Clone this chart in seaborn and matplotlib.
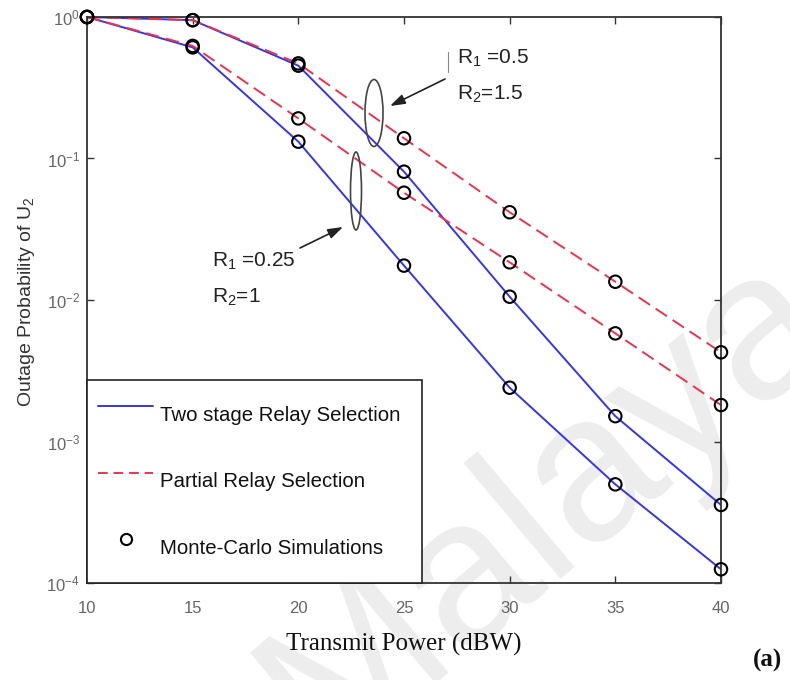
import matplotlib
matplotlib.use("Agg")
import matplotlib.pyplot as plt
from matplotlib.lines import Line2D
from matplotlib.patches import Ellipse
from matplotlib.ticker import NullLocator, FixedLocator
import seaborn as sns
import pandas as pd

# values
power = [10, 15, 20, 25, 30, 35, 40]
tsrs_r05 = [1.0, 0.95, 0.453, 0.0807, 0.01055, 0.00151, 0.000356]   # R1=0.5, R2=1.5
prs_r05 = [1.0, 0.95, 0.47, 0.139, 0.0417, 0.01346, 0.00427]
tsrs_r025 = [1.0, 0.61, 0.1315, 0.0175, 0.0024, 0.000498, 0.000125]  # R1=0.25, R2=1
prs_r025 = [1.0, 0.625, 0.192, 0.0573, 0.01846, 0.00581, 0.00181]

BLUE = '#3434f2'
RED = '#f2304c'

rows = []
for scheme, case, vals in [('Two stage Relay Selection', 'a', tsrs_r05),
                           ('Partial Relay Selection', 'a', prs_r05),
                           ('Two stage Relay Selection', 'b', tsrs_r025),
                           ('Partial Relay Selection', 'b', prs_r025)]:
    for p, v in zip(power, vals):
        rows.append({'power': p, 'prob': v, 'scheme': scheme, 'case': scheme + case})
df = pd.DataFrame(rows)

sns.set_style('ticks')
plt.rcParams['font.family'] = ['Liberation Sans', 'DejaVu Sans']
plt.rcParams['mathtext.fontset'] = 'custom'
plt.rcParams['mathtext.rm'] = 'Liberation Sans'
plt.rcParams['mathtext.it'] = 'Liberation Sans:italic'
plt.rcParams['mathtext.default'] = 'regular'

fig = plt.figure(figsize=(7.9, 6.8), dpi=100)
ax = fig.add_axes([87 / 790, 97 / 680, 634 / 790, 566 / 680])
ax.set_facecolor('none')

sns.lineplot(data=df, x='power', y='prob', hue='scheme', style='scheme', units='case',
             estimator=None, palette={'Two stage Relay Selection': BLUE, 'Partial Relay Selection': RED},
             dashes={'Two stage Relay Selection': '', 'Partial Relay Selection': (7, 3.5)},
             linewidth=1.4, legend=False, ax=ax, zorder=2)
sns.scatterplot(data=df, x='power', y='prob', marker='o', s=80, fc='none', ec='black',
                linewidth=1.5, legend=False, ax=ax, zorder=3, clip_on=False)

ax.set_yscale('log')
ax.set_xlim(10, 40)
ax.set_ylim(1e-4, 1)
ax.xaxis.set_major_locator(FixedLocator(power))
ax.yaxis.set_major_locator(FixedLocator([1e-4, 1e-3, 1e-2, 1e-1, 1]))
ax.yaxis.set_minor_locator(NullLocator())
ax.tick_params(direction='in', top=True, right=True, length=5, width=1,
               color='#333333', labelcolor='#666666', labelsize=12, pad=5)
ax.tick_params(axis='x', pad=13)
for s in ax.spines.values():
    s.set_visible(True)
    s.set_color('#333333')
    s.set_linewidth(1.3)

ax.set_xlabel('Transmit Power (dBW)', family='Liberation Serif', fontsize=18, color='#111111', labelpad=12)
ax.set_ylabel('Outage Probability of U$_2$', fontsize=14, color='#333333')
ax.yaxis.set_label_coords(-0.079, 0.497)

handles = [Line2D([], [], color=BLUE, lw=1.4),
           Line2D([], [], color=RED, lw=1.4, ls=(0, (5, 3))),
           Line2D([], [], ls='', marker='o', ms=8, mfc='none', mec='black', mew=1.5)]
labels = ['Two stage Relay Selection', 'Partial Relay Selection', 'Monte-Carlo Simulations']
leg = ax.legend(handles, labels, loc='lower left', bbox_to_anchor=(0, 0, 335 / 634, 0.4),
                mode='expand', borderaxespad=0,
                fontsize=14.7, handlelength=2.7, handleheight=3.2, handletextpad=0.35,
                labelspacing=0.93, borderpad=0.55, fancybox=False, framealpha=1,
                edgecolor='#222222')
leg.get_frame().set_linewidth(1.2)
for t in leg.get_texts():
    t.set_color('#111111')


def px(x, y):
    return x / 790, 1 - y / 680


# annotations
ax.add_patch(Ellipse(px(374, 113), 18 / 790, 67 / 680, transform=fig.transFigure,
                     fill=False, ec='#444444', lw=1.2, zorder=4, clip_on=False))
ax.add_patch(Ellipse(px(356, 191), 11 / 790, 78 / 680, transform=fig.transFigure,
                     fill=False, ec='#444444', lw=1.2, zorder=4, clip_on=False))
arrow = dict(arrowstyle='-|>,head_length=0.9,head_width=0.3', color='#222222', lw=1.2,
             shrinkA=0, shrinkB=0)
ax.annotate('', xy=(390, 680 - 106), xytext=(445, 680 - 79), xycoords='figure pixels',
            textcoords='figure pixels', arrowprops=arrow)
ax.annotate('', xy=(343, 680 - 227), xytext=(300, 680 - 248), xycoords='figure pixels',
            textcoords='figure pixels', arrowprops=arrow)
fig.add_artist(Line2D([448 / 790, 448 / 790], [1 - 52 / 680, 1 - 72 / 680], color='#888888', lw=0.8))

txt = dict(fontsize=15, color='#222222', va='center', ha='left')
fig.text(*px(457, 58), 'R$_1$ =0.5', **txt)
fig.text(*px(457, 94), 'R$_2$=1.5', **txt)
fig.text(*px(212, 261), 'R$_1$ =0.25', **txt)
fig.text(*px(212, 297), 'R$_2$=1', **txt)

fig.text(*px(767, 660), '(a)', family='Liberation Serif', fontweight='bold', fontsize=18,
         ha='center', va='center', color='#111111')

# watermark behind the plot
fig.text(*px(548, 505), 'Malaya', fontsize=150, color='#ededed', rotation=40,
         ha='center', va='center', zorder=-1)

fig.savefig('out.png', dpi=100)
